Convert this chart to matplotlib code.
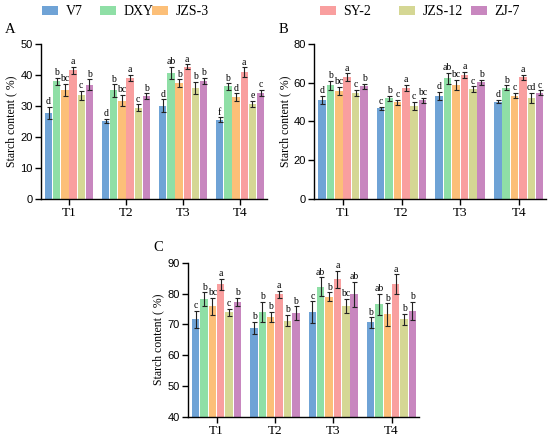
import matplotlib.pyplot as plt
import numpy as np
from matplotlib.patches import Patch

plt.rcParams["font.family"] = ["Liberation Serif", "DejaVu Serif"]

# Data
treatments = ["T1", "T2", "T3", "T4"]
cultivars = ["V7", "DXY", "JZS-3", "SY-2", "JZS-12", "ZJ-7"]
colors = ["#6fa3d6", "#8fdfa6", "#fcbf78", "#f99f9f", "#d5d794", "#c887bf"]

# rows = cultivars, columns = T1..T4
mean_a = [[27.7, 25.2, 30.1, 25.5],
          [37.9, 35.0, 40.6, 36.3],
          [35.2, 31.7, 37.4, 32.9],
          [41.5, 39.0, 42.6, 40.9],
          [33.4, 29.5, 35.8, 30.7],
          [36.8, 33.1, 38.1, 34.2]]
err_a = [[2.0, 0.7, 2.0, 0.8],
         [1.2, 2.0, 2.0, 1.0],
         [2.0, 1.8, 1.2, 1.2],
         [1.2, 1.0, 0.8, 1.6],
         [1.5, 1.0, 2.0, 1.0],
         [1.8, 1.0, 1.0, 1.0]]
sig_a = [["d", "d", "d", "f"],
         ["b", "b", "ab", "b"],
         ["bc", "bc", "b", "d"],
         ["a", "a", "a", "a"],
         ["c", "c", "b", "e"],
         ["b", "b", "b", "c"]]

mean_b = [[51.2, 46.9, 53.3, 50.3],
          [58.6, 52.1, 62.2, 57.4],
          [55.9, 49.8, 59.0, 53.3],
          [62.9, 57.4, 64.1, 62.9],
          [54.7, 48.1, 56.7, 52.1],
          [58.1, 50.9, 60.2, 54.8]]
err_b = [[2.0, 0.8, 2.0, 1.0],
         [2.3, 1.3, 3.0, 1.3],
         [2.0, 1.2, 2.5, 1.3],
         [2.0, 1.5, 1.5, 1.3],
         [1.5, 2.0, 1.5, 2.5],
         [1.2, 1.3, 1.3, 1.2]]
sig_b = [["d", "c", "d", "d"],
         ["b", "b", "ab", "b"],
         ["bc", "c", "bc", "c"],
         ["a", "a", "a", "a"],
         ["c", "c", "c", "cd"],
         ["b", "bc", "b", "c"]]

mean_c = [[71.6, 68.7, 73.9, 70.6],
          [78.2, 74.1, 82.2, 76.5],
          [75.9, 72.5, 79.0, 73.2],
          [83.0, 79.7, 84.6, 83.0],
          [73.9, 71.2, 76.0, 71.7],
          [77.3, 73.6, 79.7, 74.3]]
err_c = [[2.7, 2.0, 3.6, 1.7],
         [2.2, 3.2, 3.0, 3.5],
         [2.8, 1.6, 1.4, 3.6],
         [1.8, 1.2, 2.8, 3.2],
         [1.2, 1.9, 2.2, 1.8],
         [1.2, 2.2, 4.0, 3.0]]
sig_c = [["c", "b", "c", "b"],
         ["b", "b", "ab", "ab"],
         ["bc", "b", "b", "b"],
         ["a", "a", "a", "a"],
         ["c", "b", "bc", "b"],
         ["b", "b", "ab", "b"]]

fig = plt.figure(figsize=(5.5, 4.41), dpi=100)
ax_a = fig.add_axes([0.0745, 0.5488, 0.411, 0.3515])
ax_b = fig.add_axes([0.5715, 0.5488, 0.4218, 0.3515])
ax_c = fig.add_axes([0.3418, 0.0551, 0.420, 0.3492])

slot = 0.143
x = np.arange(len(treatments))


def draw_panel(ax, means, errs, sigs, ylim, yticks, label, label_pos):
    for i in range(len(cultivars)):
        pos = x + (i - 2.5) * slot
        ax.bar(pos, np.array(means[i]) - ylim[0], width=slot * 0.9,
               bottom=ylim[0], color=colors[i], zorder=2)
        ax.errorbar(pos, means[i], yerr=errs[i], fmt="none", ecolor="#222222",
                    elinewidth=0.8, capsize=1.8, capthick=0.8, zorder=3)
        for j in range(len(treatments)):
            ax.annotate(sigs[i][j], (pos[j], means[i][j] + errs[i][j]),
                        xytext=(0, 0.5), textcoords="offset points",
                        ha="center", va="bottom", fontsize=7)
    ax.set_xlim(-0.49, 3.47)
    ax.set_ylim(*ylim)
    ax.set_yticks(yticks)
    ax.set_yticklabels([str(t) for t in yticks], family="Liberation Sans",
                       fontsize=8)
    ax.set_xticks(x)
    ax.set_xticklabels(treatments, fontsize=9.5)
    ax.spines["top"].set_visible(False)
    ax.spines["right"].set_visible(False)
    ax.spines["left"].set_linewidth(1.0)
    ax.spines["bottom"].set_linewidth(1.0)
    ax.tick_params(direction="out", length=4, width=1.0, pad=2)
    ax.set_ylabel("Starch content ( %)", fontsize=8.5, labelpad=2)
    ax.text(label_pos[0], label_pos[1], label, transform=ax.transAxes,
            fontsize=10.5, ha="center", va="bottom")


draw_panel(ax_a, mean_a, err_a, sig_a, (0, 50), [0, 10, 20, 30, 40, 50], "A",
           (-0.135, 1.05))
draw_panel(ax_b, mean_b, err_b, sig_b, (0, 80), [0, 20, 40, 60, 80], "B",
           (-0.135, 1.05))
draw_panel(ax_c, mean_c, err_c, sig_c, (40, 90), [40, 50, 60, 70, 80, 90], "C",
           (-0.13, 1.055))

# legend entries placed one by one (patch left edges in pixels)
legend_x = [42, 100, 152, 320, 399, 471]
for c, n, px in zip(colors, cultivars, legend_x):
    fig.legend(handles=[Patch(facecolor=c, label=n)], loc="center left",
               bbox_to_anchor=(px / 550, 0.973), frameon=False, fontsize=10,
               handlelength=1.15, handleheight=0.6, handletextpad=0.55,
               borderpad=0, borderaxespad=0)

fig.savefig("out.png", dpi=100)
